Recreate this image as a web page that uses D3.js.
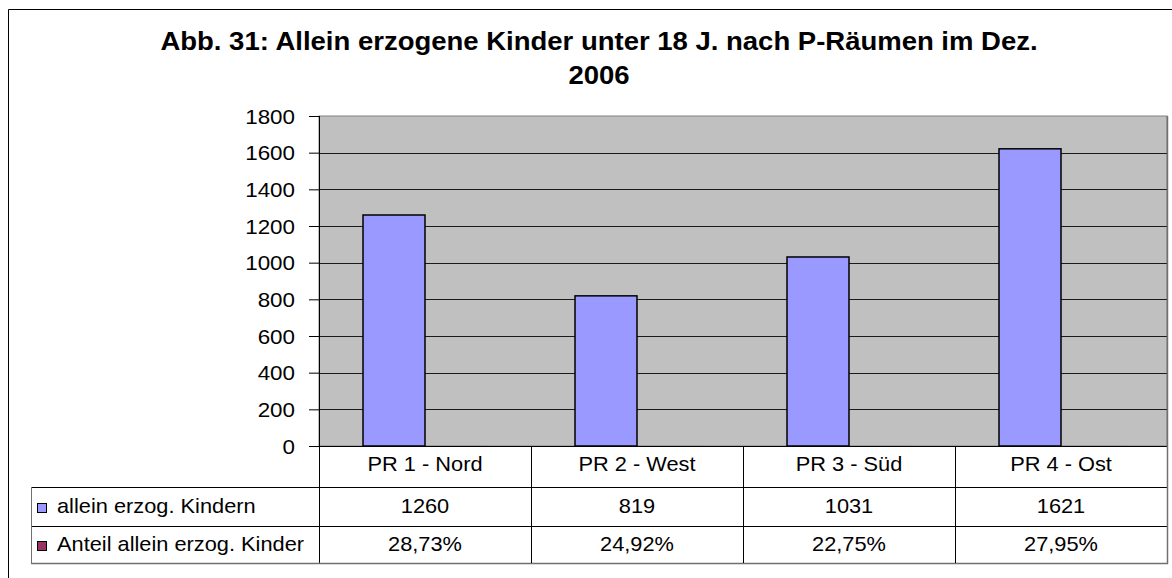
<!DOCTYPE html>
<html><head><meta charset="utf-8">
<script src="https://cdn.jsdelivr.net/npm/d3@7"></script>
<style>
html,body{margin:0;padding:0;background:#fff;}
svg{display:block;}
text{font-family:"Liberation Sans",Arial,sans-serif;fill:#000;}
</style></head>
<body>
<svg id="c" width="1172" height="578"></svg>
<script>
const titleLines = ["Abb. 31: Allein erzogene Kinder unter 18 J. nach P-Räumen im Dez.", "2006"];
const categories = ["PR 1 - Nord", "PR 2 - West", "PR 3 - Süd", "PR 4 - Ost"];
const seriesNames = ["allein erzog. Kindern", "Anteil allein erzog. Kinder"];
const kinder = [1260, 819, 1031, 1621];
const anteil = [0.2873, 0.2492, 0.2275, 0.2795];
const anteilLabels = ["28,73%", "24,92%", "22,75%", "27,95%"];
const yTicks = [0, 200, 400, 600, 800, 1000, 1200, 1400, 1600, 1800];
const colors = ["#9999FF", "#993366"];

const seriesValues = [kinder, anteil];
const tableRows = [kinder.map(String), anteilLabels];

const svg = d3.select("#c");
const L = 319, R = 1167, T = 116, B = 446;
const rowH = [446, 487, 526, 563];
const legendLeft = 31;
const SX = 1.09;

// outer chart border
svg.append("path").attr("d", "M8.5,600 V9.5 H1200").attr("fill", "none").attr("stroke", "#000").attr("stroke-width", 1);

// title
svg.selectAll("text.title").data(titleLines).join("text")
  .attr("class", "title")
  .attr("transform", (d, i) => `translate(599,${50 + i * 34}) scale(1.1,1)`)
  .attr("text-anchor", "middle")
  .attr("font-size", 25).attr("font-weight", "bold")
  .text(d => d);

const y = d3.scaleLinear().domain([0, 1800]).range([B, T]);
const x0 = d3.scaleBand().domain(categories).range([L, R]).padding(0);
const x1 = d3.scaleBand().domain(seriesNames).range([0, x0.bandwidth()]).paddingInner(0).paddingOuter(0.71);

// plot area
svg.append("rect").attr("x", L).attr("y", T).attr("width", R - L).attr("height", B - T)
  .attr("fill", "#C0C0C0").attr("stroke", "#808080").attr("stroke-width", 1);

// gridlines
svg.append("g").selectAll("line").data(yTicks.filter(v => v > 0 && v < 1800)).join("line")
  .attr("x1", L).attr("x2", R).attr("y1", d => Math.round(y(d)) + 0.5).attr("y2", d => Math.round(y(d)) + 0.5)
  .attr("stroke", "#1a1a1a").attr("stroke-width", 1);

// bars
const groups = svg.append("g").selectAll("g").data(categories).join("g")
  .attr("transform", d => `translate(${x0(d)},0)`);
groups.selectAll("rect").data((d, i) => seriesNames.map((s, j) => ({ s, j, v: seriesValues[j][i] }))).join("rect")
  .attr("x", d => x1(d.s)).attr("width", x1.bandwidth())
  .attr("y", d => y(d.v)).attr("height", d => B - y(d.v))
  .attr("fill", d => colors[d.j]).attr("stroke", "#000").attr("stroke-width", d => d.j === 0 ? 1.5 : 0);

// y axis
const yAxis = d3.axisLeft(y).tickValues(yTicks).tickSize(10).tickPadding(14).tickFormat(d3.format("d"));
const ya = svg.append("g").attr("transform", `translate(${L},0)`).call(yAxis);
ya.select(".domain").remove();
ya.selectAll(".tick line").attr("stroke", "#000");
ya.selectAll(".tick text").attr("font-size", 20).attr("font-family", "Liberation Sans, Arial, sans-serif")
  .attr("fill", "#000").attr("dy", "0.35em")
  .attr("transform", function() { const xx = +d3.select(this).attr("x"); return `translate(${xx * (1 - 1.12)},0) scale(1.12,1)`; });
svg.append("line").attr("x1", L + 0.5).attr("x2", L + 0.5).attr("y1", T).attr("y2", rowH[3]).attr("stroke", "#000");

// table lines
const tbl = svg.append("g");
tbl.append("line").attr("x1", L).attr("x2", R).attr("y1", B + 0.5).attr("y2", B + 0.5).attr("stroke", "#000");
[1, 2].forEach(k => tbl.append("line").attr("x1", legendLeft).attr("x2", R).attr("y1", rowH[k] + 0.5).attr("y2", rowH[k] + 0.5).attr("stroke", "#000"));
tbl.append("line").attr("x1", legendLeft).attr("x2", R + 1).attr("y1", rowH[3] + 0.5).attr("y2", rowH[3] + 0.5).attr("stroke", "#707070").attr("stroke-width", 1.5);
tbl.append("line").attr("x1", legendLeft + 0.5).attr("x2", legendLeft + 0.5).attr("y1", rowH[1]).attr("y2", rowH[3]).attr("stroke", "#707070");
tbl.append("line").attr("x1", R + 0.5).attr("x2", R + 0.5).attr("y1", T).attr("y2", rowH[3] + 1).attr("stroke", "#707070").attr("stroke-width", 1.5);
tbl.selectAll("line.sep").data(categories.slice(1)).join("line").attr("class", "sep")
  .attr("x1", d => x0(d) + 0.5).attr("x2", d => x0(d) + 0.5).attr("y1", B).attr("y2", rowH[3])
  .attr("stroke", "#000");

function sText(g, x, yy, txt, anchor) {
  return g.append("text").attr("transform", `translate(${x},${yy}) scale(${SX},1)`)
    .attr("text-anchor", anchor).attr("font-size", 20).text(txt);
}
// category labels
categories.forEach(c => sText(svg, x0(c) + x0.bandwidth() / 2, 471, c, "middle"));
// values rows
const rowBase = [513, 551];
tableRows.forEach((row, r) => row.forEach((t, i) => sText(svg, x0(categories[i]) + x0.bandwidth() / 2, rowBase[r], t, "middle")));
// legend
seriesNames.forEach((s, j) => {
  svg.append("rect").attr("x", 37.5).attr("y", rowBase[j] - 9.5).attr("width", 9).attr("height", 9)
    .attr("fill", colors[j]).attr("stroke", "#000").attr("stroke-width", 1);
  sText(svg, 57, rowBase[j], s, "start");
});
</script>
</body></html>
